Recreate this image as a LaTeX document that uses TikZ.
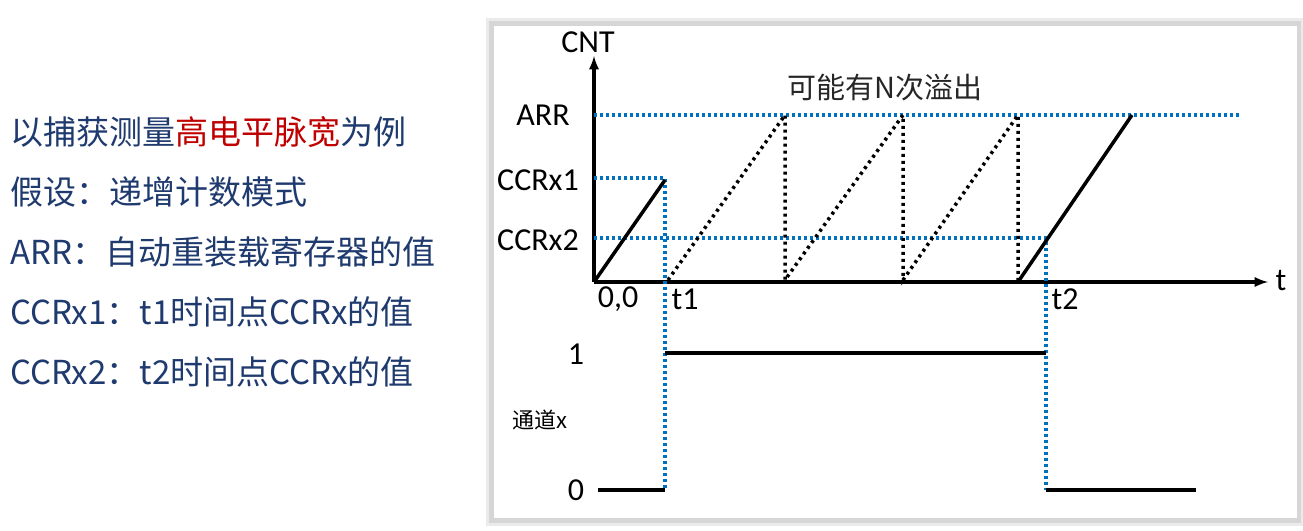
\documentclass[tikz,border=0pt]{standalone}
\usepackage{fontspec}
\setmainfont{Carlito}
\newfontfamily\cjk{Noto Sans CJK SC}
\usetikzlibrary{positioning,shadows}
\definecolor{navy}{HTML}{1F3A6E}
\definecolor{ccrblue}{HTML}{0070C0}
\definecolor{hired}{HTML}{C00000}
\begin{document}
\begin{tikzpicture}
[x=1pt,y=-1pt,
 lbl/.style={font=\fontsize{32}{32}\selectfont,inner sep=0pt},
 note/.style={font=\cjk\fontsize{33}{33}\selectfont,text=navy,anchor=west,inner sep=0pt},
 guide/.style={draw=ccrblue,line width=3.5pt,dash pattern=on 3pt off 3pt},
 cnt/.style={line width=3.5pt},
 wrap/.style={line width=3.5pt,dash pattern=on 3pt off 4pt}]
\useasboundingbox (0,0) rectangle (1303,530);
\fill[white] (0,0) rectangle (1303,530);
% panel
\fill[black!8] (486,18) rectangle (1303,526);
\fill[black!16] (489,21) rectangle (1301,523);
\fill[white] (494,26) rectangle (1297,518);
% left notes
\node[note] (n1) at (10,132) {以捕获测量\textcolor{hired}{高电平脉宽}为例};
\node[note] (n2) at (10,192) {假设：递增计数模式};
\node[note] (n3) at (10,252) {ARR：自动重装载寄存器的值};
\node[note] (n4) at (10,312) {CCRx1：t1时间点CCRx的值};
\node[note] (n5) at (10,372) {CCRx2：t2时间点CCRx的值};
% axes
\coordinate (O)   at (594,282);
\coordinate (ytop) at (594,56);
\coordinate (xend) at (1268,282);
\draw[line width=3.5pt,-latex] (O) -- (ytop);
\draw[line width=3.5pt,-latex] (O) -- (xend);
\node[lbl] (cntl) at (588,42) {CNT};
\node[lbl] (tl)   at (1281,280) {t};
\node[lbl] (arrl) at (543,115) {ARR};
\node[lbl] (c1l)  at (538,180) {CCRx1};
\node[lbl] (c2l)  at (538,240) {CCRx2};
\node[lbl] (ool)  at (618,299) {0,0};
\node[lbl] (t1l)  at (685,299) {t1};
\node[lbl] (t2l)  at (1065,299) {t2};
\node[lbl] (hil)  at (576,354) {1};
\node[lbl] (lol)  at (576,490) {0};
\node[font=\cjk\fontsize{22}{22}\selectfont,inner sep=0pt] (chl) at (540,420) {通道x};
\node[font=\cjk\fontsize{29}{29}\selectfont,inner sep=0pt,text=black!85] (ovl) at (885,88) {可能有N次溢出};
% guides
\coordinate (a0) at (594,115);   \coordinate (a1) at (1240,115);
\coordinate (p0) at (594,178);   \coordinate (p1) at (665,178);
\coordinate (q0) at (594,238);   \coordinate (q1) at (1046,238);
\coordinate (t1b) at (665,490);  \coordinate (t2b) at (1046,490);
\draw[guide] (a0) -- (a1);
\draw[guide] (p0) -- (p1) -- (t1b);
\draw[guide] (q0) -- (q1) -- (t2b);
% counter
\coordinate (r1) at (665,180);
\draw[cnt] (O) -- (r1);
\draw[wrap] (668,280) -- (785,115) -- (785,280) -- (903,115) -- (903,280) -- (1018,115) -- (1018,282);
\coordinate (s0) at (1018,282); \coordinate (s1) at (1132,115);
\draw[cnt] (s0) -- (s1);
% channel
\draw[cnt] (665,353) -- (1046,353);
\draw[cnt] (598,490) -- (t1b);
\draw[cnt] (t2b) -- (1196,490);
\end{tikzpicture}
\end{document}
